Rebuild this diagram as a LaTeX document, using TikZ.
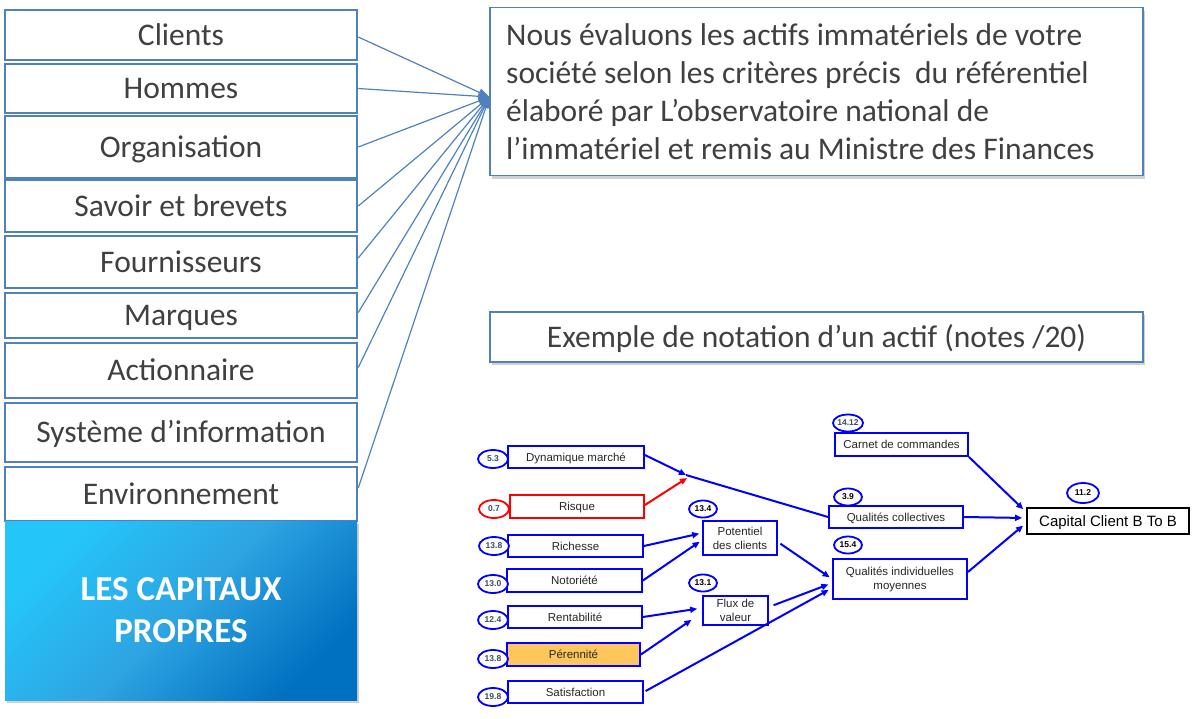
\documentclass[tikz,border=0pt]{standalone}
\usepackage{fontspec}
\setmainfont{Carlito}
\newfontfamily\arialf{Liberation Sans}
\usetikzlibrary{arrows.meta,shadows,shapes.geometric}
\definecolor{steel}{RGB}{79,129,189}
\definecolor{txtgray}{RGB}{64,64,64}
\definecolor{pblue}{RGB}{0,0,255}
\definecolor{pred}{RGB}{255,0,0}
\definecolor{orangef}{RGB}{255,198,92}
\definecolor{numgray}{RGB}{55,80,95}
\definecolor{capA}{RGB}{36,198,250}
\definecolor{capB}{RGB}{46,164,226}
\definecolor{capC}{RGB}{0,112,192}
\begin{document}
\begin{tikzpicture}[x=1pt,y=-1pt,
  listbox/.style={draw=steel, line width=2.5pt, fill=white, minimum width=352pt, inner sep=0pt,
    font=\fontsize{31.5}{38}\selectfont, text=txtgray, text height=20pt, text depth=0pt},
  conn/.style={draw=steel, line width=1.2pt, -{Triangle[length=11pt,width=8pt]}},
  softshadow/.style={drop shadow={shadow xshift=1.5pt, shadow yshift=-3pt, opacity=0.3, fill=black!60}},
  infobox/.style={draw=steel, line width=1.3pt, fill=white, softshadow, inner sep=0pt,
    font=\fontsize{31.5}{38}\selectfont, text=txtgray},
  infotxt/.style={inner sep=0pt, font=\fontsize{31.5}{38}\selectfont, text=txtgray, align=left},
  pbox/.style={draw=pblue, line width=1.8pt, fill=white, inner sep=0pt,
    font=\arialf\fontsize{11.5}{14}\selectfont, text=black!85},
  pone/.style={pbox, text height=8.4pt, text depth=0pt},
  pmulti/.style={pbox, align=center},
  pell/.style={ellipse, draw=pblue, line width=1.8pt, fill=white, inner sep=0pt,
    font=\arialf\bfseries\fontsize{8.5}{9}\selectfont, text=numgray,
    minimum width=30pt, minimum height=18pt},
  pellk/.style={pell, text=black, minimum width=28pt, minimum height=17pt},
  parr/.style={draw=pblue, line width=2pt, -{Triangle[length=7pt,width=6pt]}},
  rarr/.style={draw=pred, line width=2pt, -{Triangle[length=7pt,width=6pt]}}
]
\useasboundingbox (0,0) rectangle (1198,718);

% ---------- left column ----------
\node[listbox, minimum height=50pt] (clients) at (181,35) {Clients};
\node[listbox, minimum height=49pt] (hommes) at (181,88.5) {Hommes};
\node[listbox, minimum height=62pt] (orga) at (181,147) {Organisation};
\node[listbox, minimum height=52pt] (savoir) at (181,206) {Savoir et brevets};
\node[listbox, minimum height=52pt] (fourn) at (181,262) {Fournisseurs};
\node[listbox, minimum height=45pt] (marques) at (181,315.5) {Marques};
\node[listbox, minimum height=55pt] (action) at (181,370.5) {Actionnaire};
\node[listbox, minimum height=59pt] (sysinfo) at (181,432.5) {Système d’information};
\node[listbox, minimum height=54pt] (env) at (181,494) {Environnement};

\node[minimum width=352pt, minimum height=179pt, inner sep=0pt, softshadow,
  top color=capA, bottom color=capC, middle color=capB, shading angle=45,
  text=white, align=center, font=\bfseries\fontsize{35}{42}\selectfont] (capitaux) at (181,610.5)
  {LES CAPITAUX\\PROPRES};

% ---------- right text boxes ----------
\node[infobox, minimum width=653pt, minimum height=168pt] (info) at (816.5,91.5) {};
\node[infotxt, anchor=west] (infotext) at (506,91.5)
  {Nous évaluons les actifs immatériels de votre\\
   société selon les critères précis~ du référentiel\\
   élaboré par L’observatoire national de\\
   l’immatériel et remis au Ministre des Finances};

\node[infobox, minimum width=653pt, minimum height=50pt, text height=20pt, text depth=0pt] (exemple) at (816.5,337)
  {Exemple de notation d’un actif (notes /20)};

% ---------- connectors to info box ----------
\draw[conn] ([yshift=-2pt]clients.east) -- ([yshift=-5.5pt]info.west);
\draw[conn] (hommes.east) -- ([yshift=-5.5pt]info.west);
\draw[conn] (orga.east) -- ([yshift=-5.5pt]info.west);
\draw[conn] (savoir.east) -- ([yshift=-5.5pt]info.west);
\draw[conn] ([yshift=4pt]fourn.east) -- ([yshift=-5.5pt]info.west);
\draw[conn] ([yshift=3pt]marques.east) -- ([yshift=-5.5pt]info.west);
\draw[conn] ([yshift=3pt]action.east) -- ([yshift=-5.5pt]info.west);
\draw[conn] ([yshift=6pt]env.east) -- ([yshift=-5.5pt]info.west);

% ---------- lower diagram: boxes ----------
\node[pone, minimum width=136pt, minimum height=22pt] (dyn) at (576,457) {Dynamique marché};
\node[pone, draw=pred, minimum width=134pt, minimum height=23pt] (ris) at (577,506.5) {Risque};
\node[pone, minimum width=135pt, minimum height=22pt] (ric) at (575.5,546) {Richesse};
\node[pone, minimum width=135pt, minimum height=23pt] (noto) at (574.5,580.5) {Notoriété};
\node[pone, minimum width=134pt, minimum height=22pt] (rent) at (575,617) {Rentabilité};
\node[pone, fill=orangef, minimum width=133pt, minimum height=23pt] (pere) at (573.5,654.5) {Pérennité};
\node[pone, minimum width=135pt, minimum height=22pt] (satis) at (575.5,692) {Satisfaction};
\node[pmulti, minimum width=74pt, minimum height=34pt] (pot) at (740,538) {Potentiel\\des clients};
\node[pmulti, minimum width=65pt, minimum height=29pt] (flux) at (735.5,610.5) {Flux de\\valeur};
\node[pone, minimum width=133pt, minimum height=23pt] (carnet) at (901.5,444.5) {Carnet de commandes};
\node[pone, minimum width=134pt, minimum height=22pt] (qc) at (896,517) {Qualités collectives};
\node[pmulti, minimum width=134pt, minimum height=40pt] (qi) at (900,579) {Qualités individuelles\\moyennes};
\node[pone, draw=black, minimum width=162pt, minimum height=26pt, text height=10.7pt,
  font=\arialf\fontsize{15}{17}\selectfont, text=black] (capcl) at (1108,521) {Capital Client B To B};

% ---------- lower diagram: scores ----------
\node[pell] (n1) at (493,459) {5.3};
\node[pell, draw=pred] (n2) at (494,509) {0.7};
\node[pell] (n3) at (494,546) {13.8};
\node[pell] (n4) at (493,584) {13.0};
\node[pell] (n5) at (493,620) {12.4};
\node[pell] (n6) at (493,659) {13.8};
\node[pell] (n7) at (493,697) {19.8};
\node[pellk] (n8) at (703,509) {13.4};
\node[pellk] (n9) at (703,583) {13.1};
\node[pellk, text=numgray] (n10) at (848,423) {14.12};
\node[pellk] (n11) at (848,497) {3.9};
\node[pellk] (n12) at (848,545) {15.4};
\node[pellk, minimum width=32pt, minimum height=20pt] (n13) at (1083,493) {11.2};

% ---------- lower diagram: connectors ----------
\coordinate (jA) at (686,475);
\coordinate (jB) at (687,478);
\draw[parr] ([yshift=2pt]dyn.east) -- (jA);
\draw[rarr] ([yshift=1.5pt]ris.east) -- (jB);
\draw[draw=pblue, line width=2pt] (jA) -- (qc.west);
\draw[parr, shorten >=3pt] (ric.east) -- ([yshift=5pt]pot.west);
\draw[parr, shorten >=3pt] (noto.east) -- ([yshift=-2pt]pot.west);
\draw[parr, shorten <=3pt, shorten >=3pt] ([yshift=-4pt]pot.east) -- (qi.west);
\draw[parr, shorten >=5pt] (rent.east) -- ([yshift=2.5pt]flux.west);
\draw[parr, shorten >=13pt] (pere.east) -- ([yshift=-2pt]flux.west);
\draw[parr, shorten <=5pt, shorten >=4pt] ([yshift=3.5pt]flux.east) -- ([yshift=-4pt]qi.west);
\draw[parr, shorten <=2pt, shorten >=4pt] (satis.east) -- ([yshift=-9pt]qi.west);
\draw[parr, shorten >=4pt] (carnet.south east) -- ([yshift=9pt]capcl.west);
\draw[parr, shorten >=4pt] (qc.east) -- ([yshift=3pt]capcl.west);
\draw[parr, shorten >=4pt] ([yshift=7pt]qi.east) -- ([yshift=-2pt]capcl.west);
\end{tikzpicture}
\end{document}
